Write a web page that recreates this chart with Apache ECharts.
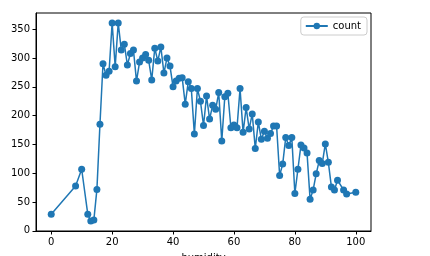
<!DOCTYPE html>
<html>
<head>
<meta charset="utf-8">
<script src="https://cdn.jsdelivr.net/npm/echarts@6/dist/echarts.min.js"></script>
<style>html,body{margin:0;padding:0;background:#fff;}#c{width:430px;height:256px;}</style>
</head>
<body>
<div id="c"></div>
<script>
var humidity = [0,8,10,12,13,14,15,16,17,18,19,20,21,22,23,24,25,26,27,28,29,30,31,32,33,34,35,36,37,38,39,40,41,42,43,44,45,46,47,48,49,50,51,52,53,54,55,56,57,58,59,60,61,62,63,64,65,66,67,68,69,70,71,72,73,74,75,76,77,78,79,80,81,82,83,84,85,86,87,88,89,90,91,92,93,94,96,97,100];
var count = [29,78,107,29,17,19,72,185,290,270,277,361,285,361,314,324,288,308,314,260,293,300,306,296,262,317,295,319,274,300,286,250,260,265,266,220,259,247,168,247,225,183,234,194,218,211,240,156,233,239,179,184,179,247,171,214,177,203,143,189,159,173,161,169,182,182,96,116,162,148,162,65,107,149,144,135,55,71,99,122,117,151,119,76,71,88,71,64,67];
var xTicks = [0,20,40,60,80,100];
var yTicks = [0,50,100,150,200,250,300,350];

var FONT = 'DejaVu Sans';
var chart = echarts.init(document.getElementById('c'), null, {renderer: 'canvas'});
var pts = humidity.map(function (h, i) { return [h, count[i]]; });
chart.setOption({
  animation: false,
  backgroundColor: '#fff',
  textStyle: {fontFamily: FONT},
  grid: {left: 36, right: 59, top: 13, bottom: 25, containLabel: false, outerBoundsMode: 'none',
         show: true, borderColor: '#000', borderWidth: 1, backgroundColor: 'transparent'},
  legend: {
    right: 63, top: 17,
    orient: 'vertical',
    backgroundColor: '#fff',
    borderColor: '#cccccc',
    borderWidth: 1,
    borderRadius: 3,
    padding: [4, 6, 4, 4],
    itemWidth: 22,
    itemHeight: 8,
    itemGap: 6,
    textStyle: {fontFamily: FONT, fontSize: 10, color: '#000'},
    data: [{name: 'count'}]
  },
  xAxis: {
    type: 'value', min: -5, max: 105,
    name: 'humidity', nameLocation: 'middle', nameGap: 22,
    nameTextStyle: {fontFamily: FONT, fontSize: 10, color: '#000'},
    axisLine: {show: true, onZero: false, lineStyle: {color: '#000', width: 1}},
    axisTick: {show: true, length: 3.5, lineStyle: {color: '#000'}, customValues: xTicks},
    axisLabel: {fontFamily: FONT, fontSize: 10, color: '#000', margin: 6, customValues: xTicks},
    splitLine: {show: false}
  },
  yAxis: {
    type: 'value', min: -0.2, max: 378.2,
    axisLine: {show: true, onZero: false, lineStyle: {color: '#000', width: 1}},
    axisTick: {show: true, length: 3.5, lineStyle: {color: '#000'}, customValues: yTicks},
    axisLabel: {fontFamily: FONT, fontSize: 10, color: '#000', margin: 6, customValues: yTicks},
    splitLine: {show: false}
  },
  series: [{
    name: 'count',
    type: 'line',
    data: pts,
    symbol: 'circle',
    symbolSize: 7,
    showAllSymbol: true,
    itemStyle: {color: '#1f77b4'},
    lineStyle: {color: '#1f77b4', width: 1.5}
  }]
});
</script>
</body>
</html>
